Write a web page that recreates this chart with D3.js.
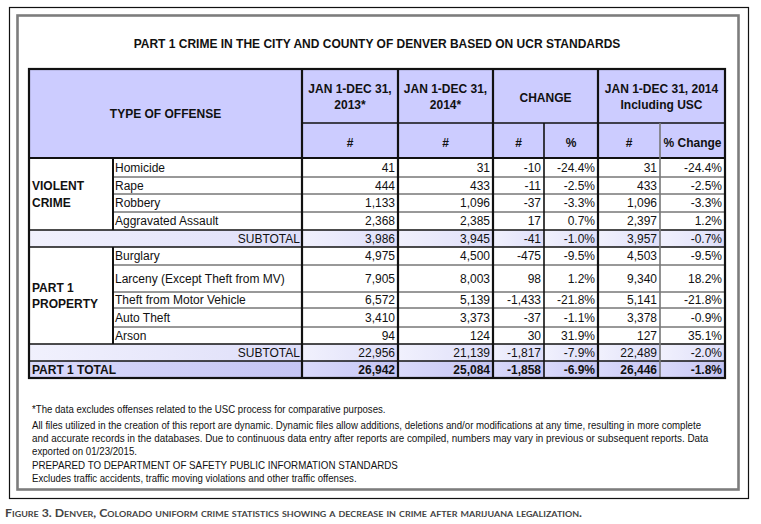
<!DOCTYPE html>
<html><head><meta charset="utf-8">
<script src="https://cdn.jsdelivr.net/npm/d3@7"></script>
<style>html,body{margin:0;padding:0;background:#fff;} svg{display:block;}</style>
</head><body>
<svg id="c" width="761" height="524"></svg>
<script>
// ---------- DATA ----------
const title = "PART 1 CRIME IN THE CITY AND COUNTY OF DENVER BASED ON UCR STANDARDS";
const violentOffenses = ["Homicide", "Rape", "Robbery", "Aggravated Assault"];
const propertyOffenses = ["Burglary", "Larceny (Except Theft from MV)", "Theft from Motor Vehicle", "Auto Theft", "Arson"];
const count2013 = [41, 444, 1133, 2368, 4975, 7905, 6572, 3410, 94];
const count2014 = [31, 433, 1096, 2385, 4500, 8003, 5139, 3373, 124];
const changeNum = [-10, -11, -37, 17, -475, 98, -1433, -37, 30];
const changePct = [-24.4, -2.5, -3.3, 0.7, -9.5, 1.2, -21.8, -1.1, 31.9];
const countUSC = [31, 433, 1096, 2397, 4503, 9340, 5141, 3378, 127];
const changePctUSC = [-24.4, -2.5, -3.3, 1.2, -9.5, 18.2, -21.8, -0.9, 35.1];
const subtotalViolent = [3986, 3945, -41, -1.0, 3957, -0.7];
const subtotalProperty = [22956, 21139, -1817, -7.9, 22489, -2.0];
const part1Total = [26942, 25084, -1858, -6.9, 26446, -1.8];
const headerTop = [["JAN 1-DEC 31,", "2013*"], ["JAN 1-DEC 31,", "2014*"], ["CHANGE"], ["JAN 1-DEC 31, 2014", "Including USC"]];
const headerSub = ["#", "#", "#", "%", "#", "% Change"];
const footnotes = [
  "*The data excludes offenses related to the USC process for comparative purposes.",
  "All files utilized in the creation of this report are dynamic.  Dynamic files allow additions, deletions and/or modifications at any time, resulting in more complete",
  "and accurate records in the databases.  Due to continuous data entry after reports are compiled, numbers may vary in previous or subsequent reports.   Data",
  "exported on 01/23/2015.",
  "PREPARED TO DEPARTMENT OF SAFETY PUBLIC INFORMATION STANDARDS",
  "Excludes traffic accidents, traffic moving violations and other traffic offenses."
];
const caption = "Figure 3. Denver, Colorado uniform crime statistics showing a decrease in crime after marijuana legalization.";

// ---------- LAYOUT ----------
const svg = d3.select("#c");
const F = "'Liberation Sans', Arial, sans-serif";
const hy = s => s.replace(/\u2212/g, "-");
const fmtN = v => hy(d3.format(",")(v));
const fmtP = v => hy(d3.format(".1f")(v)) + "%";

const tableL = 29, tableR = 725, tableT = 69, headMid = 123, headB = 158;
const catR = 113, offR = 302;
const colEdges = [302, 398, 493, 544, 598, 660, 725];
const groupEdges = [[302, 398], [398, 493], [493, 598], [598, 725]];
const rowHeights = [19, 17, 18, 18, 17, 18, 27, 16, 19, 17, 17, 17];
const rowTop = i => headB + d3.sum(rowHeights.slice(0, i));
const tableB = rowTop(rowHeights.length);

// build rows
const rows = [];
violentOffenses.forEach((name, i) => rows.push({type: "off", name, vals: [count2013[i], count2014[i], changeNum[i], changePct[i], countUSC[i], changePctUSC[i]]}));
rows.push({type: "sub", name: "SUBTOTAL", vals: subtotalViolent});
propertyOffenses.forEach((name, j) => { const i = j + violentOffenses.length; rows.push({type: "off", name, vals: [count2013[i], count2014[i], changeNum[i], changePct[i], countUSC[i], changePctUSC[i]]}); });
rows.push({type: "sub", name: "SUBTOTAL", vals: subtotalProperty});
rows.push({type: "tot", name: "PART 1 TOTAL", vals: part1Total});
rows.forEach((r, i) => { r.y0 = rowTop(i); r.h = rowHeights[i]; r.i = i; });

// gradients
const defs = svg.append("defs");
const g1 = defs.append("linearGradient").attr("id", "gSub");
g1.append("stop").attr("offset", "0%").attr("stop-color", "#f1f1fd");
g1.append("stop").attr("offset", "100%").attr("stop-color", "#dedef9");
const g2 = defs.append("linearGradient").attr("id", "gTot");
g2.append("stop").attr("offset", "0%").attr("stop-color", "#dadafb");
g2.append("stop").attr("offset", "100%").attr("stop-color", "#c4c4f3");

// frames
svg.append("rect").attr("x", 9.5).attr("y", 7.5).attr("width", 739).attr("height", 491)
  .attr("fill", "none").attr("stroke", "#111").attr("stroke-width", 1.2);
svg.append("rect").attr("x", 17.5).attr("y", 15.5).attr("width", 721).attr("height", 474)
  .attr("fill", "none").attr("stroke", "#7d7d7d").attr("stroke-width", 2.6);

// title
svg.append("text").attr("x", (tableL + tableR) / 2).attr("y", 47.5).attr("text-anchor", "middle")
  .attr("font-family", F).attr("font-weight", "bold").attr("font-size", 12).attr("fill", "#111").text(title);

// header fill
svg.append("rect").attr("x", tableL).attr("y", tableT).attr("width", tableR - tableL).attr("height", headB - tableT).attr("fill", "#ccccff");

// row fills
const cellFills = svg.append("g");
rows.filter(r => r.type !== "off").forEach(r => {
  const fill = r.type === "sub" ? "url(#gSub)" : "url(#gTot)";
  const edges = [tableL].concat(colEdges);
  d3.pairs(edges).forEach(([a, b]) => {
    cellFills.append("rect").attr("x", a).attr("y", r.y0).attr("width", b - a).attr("height", r.h).attr("fill", fill);
  });
});

// header texts
const hdr = svg.append("g").attr("font-family", F).attr("font-weight", "bold").attr("font-size", 12).attr("fill", "#111").attr("text-anchor", "middle");
hdr.append("text").attr("x", (tableL + offR) / 2).attr("y", 118).text("TYPE OF OFFENSE");
headerTop.forEach((lines, k) => {
  const cx = (groupEdges[k][0] + groupEdges[k][1]) / 2;
  if (lines.length === 1) hdr.append("text").attr("x", cx).attr("y", 101.5).text(lines[0]);
  else lines.forEach((t, j) => hdr.append("text").attr("x", cx).attr("y", 93 + j * 16).text(t));
});
headerSub.forEach((t, k) => {
  hdr.append("text").attr("x", (colEdges[k] + colEdges[k + 1]) / 2).attr("y", 146.5).text(t);
});

// body texts
const body = svg.append("g").attr("font-family", F).attr("font-size", 12).attr("fill", "#111");
rows.forEach(r => {
  const by = r.y0 + r.h / 2 + 4.4;
  const bold = r.type === "tot";
  if (r.type === "off") body.append("text").attr("x", catR + 2).attr("y", by).text(r.name);
  else if (r.type === "sub") body.append("text").attr("x", offR - 2).attr("y", by).attr("text-anchor", "end").text(r.name);
  else body.append("text").attr("x", tableL + 3).attr("y", by).attr("font-weight", "bold").text(r.name);
  r.vals.forEach((v, k) => {
    const isPct = (k === 3 || k === 5);
    body.append("text").attr("x", colEdges[k + 1] - 3).attr("y", by).attr("text-anchor", "end")
      .attr("font-weight", bold ? "bold" : null).text(isPct ? fmtP(v) : fmtN(v));
  });
});
// category labels
const catLab = [["VIOLENT", "CRIME"], ["PART 1", "PROPERTY"]];
const catMid = [(rowTop(0) + rowTop(4)) / 2, (rowTop(5) + rowTop(10)) / 2];
catLab.forEach((ls, k) => ls.forEach((t, j) => {
  body.append("text").attr("x", tableL + 3).attr("y", catMid[k] + (j - 0.5) * 16.5 + 4.4).attr("font-weight", "bold").text(t);
}));

// grid lines
const grid = svg.append("g").attr("fill", "none");
function hl(x1, x2, y, w, c) { grid.append("line").attr("x1", x1).attr("x2", x2).attr("y1", y).attr("y2", y).attr("stroke", c || "#111").attr("stroke-width", w); }
function vl(x, y1, y2, w, c) { grid.append("line").attr("x1", x).attr("x2", x).attr("y1", y1).attr("y2", y2).attr("stroke", c || "#111").attr("stroke-width", w); }
rows.forEach((r, i) => {
  const next = rows[i + 1];
  if (!next) return;
  if (r.type === "off" && next.type === "off") hl(catR, tableR, r.y0 + r.h, 1, "#333");
  else hl(tableL, tableR, r.y0 + r.h, 1.6);
});
hl(offR, tableR, headMid, 1.6);
hl(tableL, tableR, headB, 2);
vl(catR, rowTop(0), rowTop(4), 2);
vl(catR, rowTop(5), rowTop(10), 2);
[302, 398, 493, 598].forEach(x => vl(x, tableT, tableB, 2.2));
vl(544, headMid, tableB, 1.6);
vl(660, headMid, tableB, 1.6, "#777");
grid.append("rect").attr("x", tableL).attr("y", tableT).attr("width", tableR - tableL).attr("height", tableB - tableT)
  .attr("stroke", "#111").attr("stroke-width", 2.2);

// footnotes: fitted to measured line widths with a horizontal scale
const fnY = [413, 428.5, 442, 455, 468.5, 481.5];
const fnEnd = [386, 702, 710, 137, 398, 357];
const fn = svg.append("g").attr("font-family", "'Liberation Sans Narrow', 'Liberation Sans', Arial, sans-serif").attr("font-size", 11).attr("fill", "#111");
footnotes.forEach((t, i) => {
  const tx = fn.append("text").attr("x", 0).attr("y", 0).text(t);
  const w = tx.node().getBBox().width;
  const sx = (fnEnd[i] - 32) / w;
  tx.attr("transform", `translate(32,${fnY[i]}) scale(${sx},1)`);
});

// caption
svg.append("text").attr("x", 5).attr("y", 517).attr("font-family", "Lato, 'Open Sans', sans-serif").attr("font-weight", "bold")
  .attr("font-size", 11).attr("font-variant", "small-caps").attr("fill", "#444")
  .attr("textLength", 577).attr("lengthAdjust", "spacingAndGlyphs").text(caption);
</script>
</body></html>
